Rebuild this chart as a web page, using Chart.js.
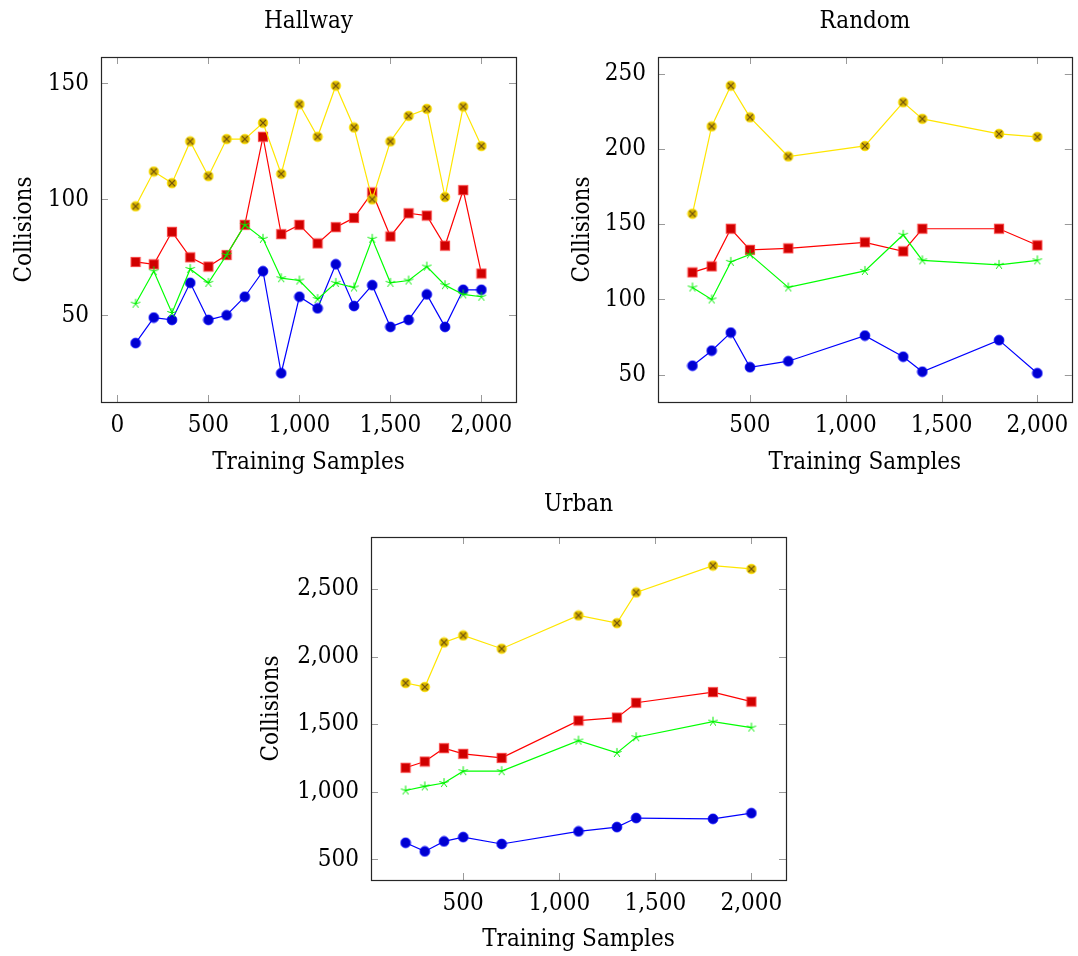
<!DOCTYPE html>
<html><head><meta charset="utf-8">
<script src="https://cdn.jsdelivr.net/npm/chart.js@4.4.1/dist/chart.umd.min.js"></script>
<style>
html,body{margin:0;padding:0;background:#fff;width:1078px;height:956px;overflow:hidden;position:relative}
canvas{position:absolute}
</style></head><body>
<canvas id="hallway" width="540" height="480" style="left:0px;top:0px"></canvas>
<canvas id="random" width="533" height="480" style="left:545px;top:0px"></canvas>
<canvas id="urban" width="560" height="473" style="left:250px;top:483px"></canvas>
<script>
// ---------------- DATA ----------------
const hallwaySamples = [100,200,300,400,500,600,700,800,900,1000,1100,1200,1300,1400,1500,1600,1700,1800,1900,2000];
const hallwayBlue   = [38,49,48,64,48,50,58,69,25,58,53,72,54,63,45,48,59,45,61,61];
const hallwayRed    = [73,72,86,75,71,76,89,127,85,89,81,88,92,103,84,94,93,80,104,68];
const hallwayGreen  = [55,69,51,70,64,76,89,83,66,65,57,64,62,83,64,65,71,63,59,58];
const hallwayYellow = [97,112,107,125,110,126,126,133,111,141,127,149,131,100,125,136,139,101,140,123];
const hallwayXTicks = [0,500,1000,1500,2000];
const hallwayYTicks = [50,100,150];

const randomSamples = [200,300,400,500,700,1100,1300,1400,1800,2000];
const randomBlue   = [56,66,78,55,59,76,62,52,73,51];
const randomRed    = [118,122,147,133,134,138,132,147,147,136];
const randomGreen  = [108,100,125,130,108,119,143,126,123,126];
const randomYellow = [157,215,242,221,195,202,231,220,210,208];
const randomXTicks = [500,1000,1500,2000];
const randomYTicks = [50,100,150,200,250];

const urbanSamples = [200,300,400,500,700,1100,1300,1400,1800,2000];
const urbanBlue   = [623,559,633,665,614,707,739,806,800,842];
const urbanRed    = [1178,1224,1323,1281,1251,1527,1549,1659,1738,1667];
const urbanGreen  = [1010,1040,1065,1153,1153,1379,1288,1404,1519,1475];
const urbanYellow = [1805,1776,2105,2157,2059,2305,2248,2475,2674,2649];
const urbanXTicks = [500,1000,1500,2000];
const urbanYTicks = [500,1000,1500,2000,2500];

// ---------------- MARKERS ----------------
function mk(size, draw){const c=document.createElement('canvas');c.width=size;c.height=size;const g=c.getContext('2d');draw(g,size/2);return c;}
const markCircle = mk(12,(g,c)=>{g.beginPath();g.arc(c,c,4.9,0,Math.PI*2);g.fillStyle='#0000d0';g.fill();g.lineWidth=0.8;g.strokeStyle='#0000ff';g.stroke();});
const markSquare = mk(12,(g,c)=>{g.fillStyle='#d00000';g.fillRect(c-4.7,c-4.7,9.4,9.4);g.lineWidth=0.8;g.strokeStyle='#ff4040';g.strokeRect(c-4.7,c-4.7,9.4,9.4);});
const markStar = mk(12,(g,c)=>{g.strokeStyle='#00ee00';g.lineWidth=1;g.beginPath();for(let i=0;i<5;i++){const a=-Math.PI/2+i*2*Math.PI/5;g.moveTo(c,c);g.lineTo(c+4.9*Math.cos(a),c+4.9*Math.sin(a));}g.stroke();});
const markOtimes = mk(12,(g,c)=>{g.beginPath();g.arc(c,c,4.8,0,Math.PI*2);g.fillStyle='#dcb800';g.fill();g.lineWidth=0.9;g.strokeStyle='#ffe400';g.stroke();
  g.strokeStyle='#6a4c10';g.lineWidth=1.2;const r=3.1;g.beginPath();g.moveTo(c-r,c-r);g.lineTo(c+r,c+r);g.moveTo(c-r,c+r);g.lineTo(c+r,c-r);g.stroke();});

// ---------------- HELPERS ----------------
const FONT = "'DejaVu Serif Condensed', 'DejaVu Serif', serif";
const fmt = v => String(v).replace(/\B(?=(\d{3})+(?!\d))/g, ',');
function enlarge(arrs){const all=[].concat(...arrs);const mn=Math.min(...all),mx=Math.max(...all);const d=(mx-mn)*0.1;return [mn-d,mx+d];}

const frameTicks = {
  id:'frameTicks',
  afterDatasetsDraw(chart){
    const {ctx, chartArea:a, scales} = chart;
    ctx.save();
    ctx.strokeStyle='#9a9a9a'; ctx.lineWidth=1;
    const L=7;
    ctx.beginPath();
    scales.x.ticks.forEach(t=>{const x=Math.round(scales.x.getPixelForValue(t.value))+0.5;
      ctx.moveTo(x,a.bottom);ctx.lineTo(x,a.bottom-L);ctx.moveTo(x,a.top);ctx.lineTo(x,a.top+L);});
    scales.y.ticks.forEach(t=>{const y=Math.round(scales.y.getPixelForValue(t.value))+0.5;
      ctx.moveTo(a.left,y);ctx.lineTo(a.left+L,y);ctx.moveTo(a.right,y);ctx.lineTo(a.right-L,y);});
    ctx.stroke();
    ctx.strokeStyle='#262626'; ctx.lineWidth=1.2;
    ctx.strokeRect(Math.round(a.left)+0.5,Math.round(a.top)+0.5,Math.round(a.right-a.left),Math.round(a.bottom-a.top));
    ctx.restore();
  }
};

function series(label, xs, ys, color, marker){
  return {label, data: xs.map((x,i)=>({x, y: ys[i]})), borderColor: color, backgroundColor: color,
    borderWidth: 1.2, pointStyle: marker, pointRadius: 5, pointHoverRadius: 5, tension: 0, clip: false};
}

function makeChart(id, o){
  const [xmin,xmax] = enlarge([o.xs]);
  const [ymin,ymax] = enlarge([o.blue,o.red,o.green,o.yellow]);
  return new Chart(document.getElementById(id), {
    type:'line',
    data:{datasets:[
      series('Yellow', o.xs, o.yellow, '#ffe600', markOtimes),
      series('Green',  o.xs, o.green,  '#00ff00', markStar),
      series('Red',    o.xs, o.red,    '#ff0000', markSquare),
      series('Blue',   o.xs, o.blue,   '#0000ff', markCircle)
    ]},
    options:{
      responsive:false, animation:false, devicePixelRatio:1,
      layout:{padding:{left:0,right:o.padRight,top:0,bottom:0}},
      plugins:{
        legend:{display:false}, tooltip:{enabled:false},
        title:{display:true, text:o.title, fullSize:false, color:'#000',
          font:{family:FONT,size:24,weight:'normal'}, padding:{top:o.titleTop,bottom:o.titleBottom}}
      },
      scales:{
        x:{type:'linear', min:xmin, max:xmax,
          grid:{display:false}, border:{display:false},
          afterBuildTicks:s=>{s.ticks=o.xTicks.map(v=>({value:v}));},
          afterFit:s=>{s.height=o.xHeight;},
          ticks:{color:'#000', font:{family:FONT,size:24}, padding:1, maxRotation:0, autoSkip:false, callback:v=>fmt(v)},
          title:{display:true, text:'Training Samples', color:'#000', font:{family:FONT,size:24}, padding:{top:0,bottom:o.xTitlePad}}
        },
        y:{type:'linear', min:ymin, max:ymax,
          grid:{display:false}, border:{display:false},
          afterBuildTicks:s=>{s.ticks=o.yTicks.map(v=>({value:v}));},
          afterFit:s=>{s.width=o.yWidth;},
          ticks:{color:'#000', font:{family:FONT,size:24}, padding:4, autoSkip:false, callback:v=>fmt(v)},
          title:{display:true, text:'Collisions', color:'#000', font:{family:FONT,size:24}, padding:{top:o.yTitlePad,bottom:0}}
        }
      }
    },
    plugins:[frameTicks]
  });
}

makeChart('hallway',{title:'Hallway', xs:hallwaySamples, blue:hallwayBlue, red:hallwayRed, green:hallwayGreen, yellow:hallwayYellow,
  xTicks:hallwayXTicks, yTicks:hallwayYTicks, padRight:24, titleTop:7.6, titleBottom:20.6, xHeight:78, yWidth:101, yTitlePad:10.6, xTitlePad:2.6});
makeChart('random',{title:'Random', xs:randomSamples, blue:randomBlue, red:randomRed, green:randomGreen, yellow:randomYellow,
  xTicks:randomXTicks, yTicks:randomYTicks, padRight:4, titleTop:7.6, titleBottom:20.6, xHeight:78, yWidth:113, yTitlePad:23.6, xTitlePad:2.6});
makeChart('urban',{title:'Urban', xs:urbanSamples, blue:urbanBlue, red:urbanRed, green:urbanGreen, yellow:urbanYellow,
  xTicks:urbanXTicks, yTicks:urbanYTicks, padRight:24, titleTop:7.6, titleBottom:17.6, xHeight:76, yWidth:121, yTitlePad:7.6, xTitlePad:1.6});
</script>
</body></html>
